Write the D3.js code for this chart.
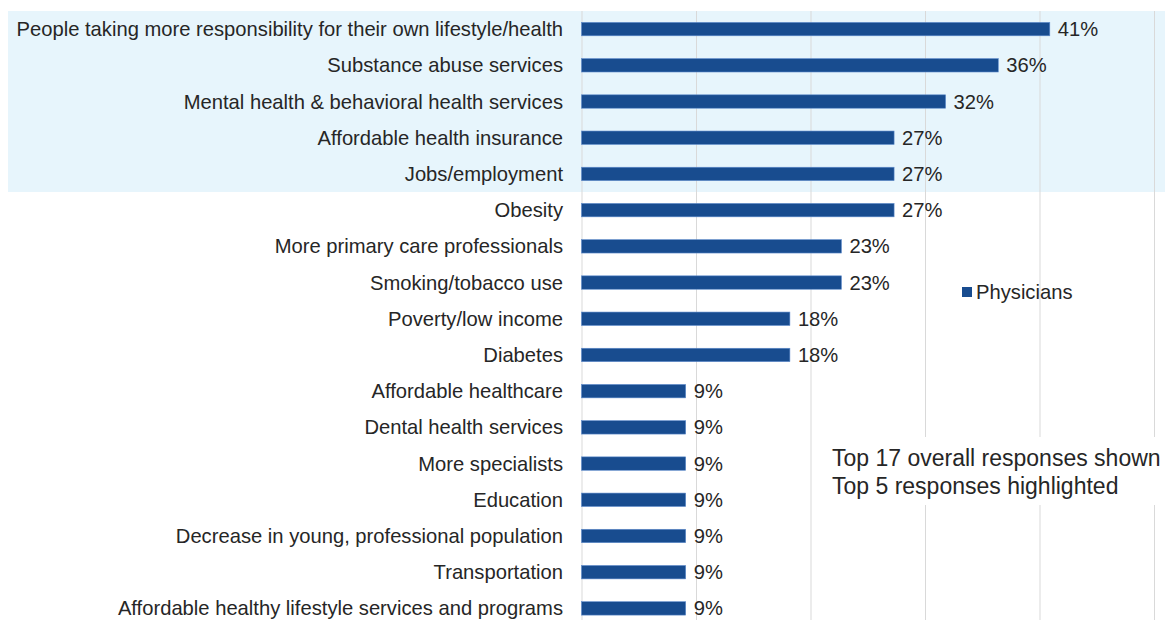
<!DOCTYPE html>
<html>
<head>
<meta charset="utf-8">
<script src="https://cdn.jsdelivr.net/npm/d3@7"></script>
<style>
  html, body { margin: 0; padding: 0; background: #ffffff; }
  svg { display: block; font-family: "Liberation Sans", Arial, sans-serif; }
</style>
</head>
<body>
<svg id="chart" width="1169" height="620"></svg>
<script>
const categories = [
  "People taking more responsibility for their own lifestyle/health",
  "Substance abuse services",
  "Mental health & behavioral health services",
  "Affordable health insurance",
  "Jobs/employment",
  "Obesity",
  "More primary care professionals",
  "Smoking/tobacco use",
  "Poverty/low income",
  "Diabetes",
  "Affordable healthcare",
  "Dental health services",
  "More specialists",
  "Education",
  "Decrease in young, professional population",
  "Transportation",
  "Affordable healthy lifestyle services and programs"
];
const physicians = [40.9, 36.4, 31.8, 27.3, 27.3, 27.3, 22.7, 22.7, 18.2, 18.2, 9.1, 9.1, 9.1, 9.1, 9.1, 9.1, 9.1];
const xTicks = [0, 10, 20, 30, 40, 50];
const highlightedCount = 5;
const seriesName = "Physicians";
const notes = ["Top 17 overall responses shown", "Top 5 responses highlighted"];

const svg = d3.select("#chart");
const x = d3.scaleLinear().domain([0, 50]).range([581.5, 1154]);
const y = d3.scaleBand().domain(categories).range([11, 626.5]).paddingInner(0.63).paddingOuter(0.315);

// highlight band
const step = y.step();
const bandTop = y(categories[0]) - (step - y.bandwidth()) / 2;
const bandBottom = y(categories[highlightedCount - 1]) + y.bandwidth() + (step - y.bandwidth()) / 2;
svg.append("rect")
  .attr("x", 8).attr("y", bandTop)
  .attr("width", 1157).attr("height", bandBottom - bandTop)
  .attr("fill", "#e7f5fc");

// gridlines
svg.append("g")
  .call(d3.axisBottom(x).tickValues(xTicks).tickSize(620).tickFormat(""))
  .call(g => g.select(".domain").remove())
  .call(g => g.selectAll(".tick line").attr("stroke", "#d9d9d9").attr("stroke-width", 1).attr("y1", 11));

// bars
svg.append("g").selectAll("rect").data(physicians).join("rect")
  .attr("x", x(0))
  .attr("y", (d, i) => y(categories[i]))
  .attr("width", d => x(d) - x(0))
  .attr("height", y.bandwidth())
  .attr("fill", "#184c8f")
  .attr("stroke", "#5f8ccc").attr("stroke-width", 0.6);

// category labels
svg.append("g").selectAll("text").data(categories).join("text")
  .attr("x", 563)
  .attr("y", d => y(d) + y.bandwidth() / 2)
  .attr("dy", "0.35em")
  .attr("text-anchor", "end")
  .attr("font-size", 20.2)
  .attr("fill", "#262626")
  .text(d => d);

// value labels
svg.append("g").selectAll("text").data(physicians).join("text")
  .attr("x", d => x(d) + 8)
  .attr("y", (d, i) => y(categories[i]) + y.bandwidth() / 2)
  .attr("dy", "0.35em")
  .attr("font-size", 20.2)
  .attr("fill", "#262626")
  .text(d => Math.round(d) + "%");

// legend
const lg = svg.append("g").attr("transform", "translate(962,292)");
lg.append("rect").attr("x", 0).attr("y", -5).attr("width", 10).attr("height", 10).attr("fill", "#184c8f");
lg.append("text").attr("x", 14).attr("y", 0).attr("dy", "0.35em").attr("font-size", 20.2).attr("fill", "#262626").text(seriesName);

// notes box
svg.append("rect").attr("x", 826).attr("y", 437).attr("width", 340).attr("height", 68).attr("fill", "#ffffff");
svg.append("g").selectAll("text").data(notes).join("text")
  .attr("x", 832)
  .attr("y", (d, i) => 466 + i * 28)
  .attr("font-size", 23)
  .attr("fill", "#262626")
  .text(d => d);
</script>
</body>
</html>
